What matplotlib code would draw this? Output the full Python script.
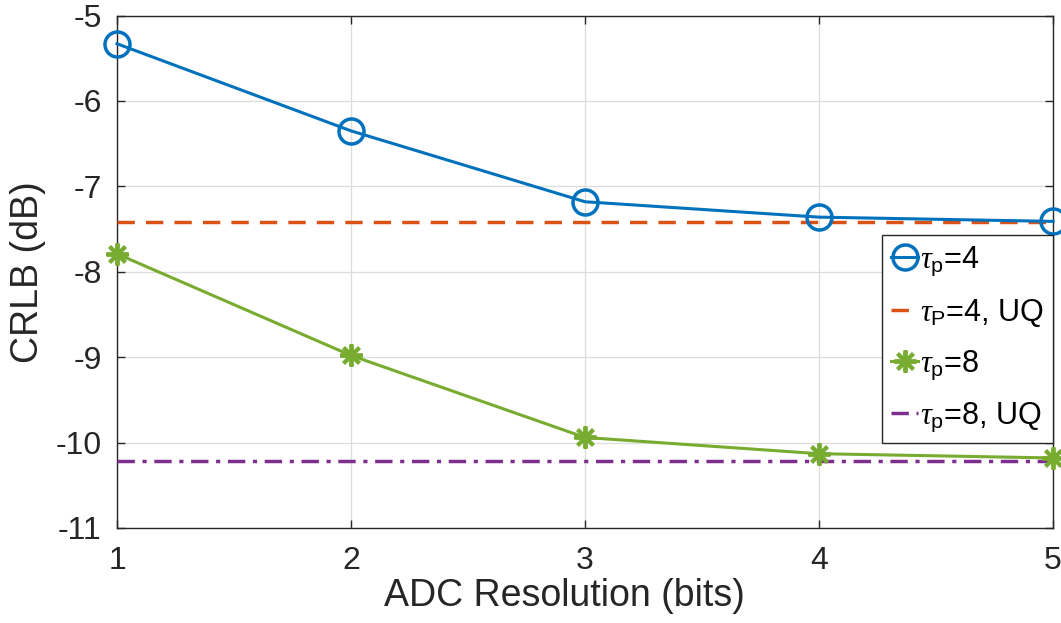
import matplotlib
matplotlib.use("Agg")
import matplotlib.pyplot as plt

plt.rcParams['font.family'] = ['Liberation Sans', 'DejaVu Sans']
plt.rcParams['mathtext.fontset'] = 'custom'
plt.rcParams['mathtext.rm'] = 'Liberation Sans'
plt.rcParams['mathtext.it'] = 'Liberation Serif:italic'

bits = [1, 2, 3, 4, 5]
crlb_tp4 = [-5.33, -6.35, -7.18, -7.36, -7.41]
crlb_tp4_uq = [-7.42] * 5
crlb_tp8 = [-7.79, -8.98, -9.94, -10.13, -10.18]
crlb_tp8_uq = [-10.21] * 5

labels = [r'$\tau_{\rm p}$=4', r'$\tau_{\rm P}$=4, UQ', r'$\tau_{\rm p}$=8', r'$\tau_{\rm p}$=8, UQ']
yticks = [-11, -10, -9, -8, -7, -6, -5]

c_blue = '#0072BD'
c_orange = '#D95319'
c_green = '#77AC30'
c_purple = '#7E2F8E'

fig = plt.figure(figsize=(10.61, 6.23), dpi=100)
ax = fig.add_axes([0.1103, 0.1525, 0.8822, 0.8225])

ax.plot(bits, crlb_tp4, color=c_blue, lw=2.2, marker='o', ms=18, mfc='none', mew=2.5,
        clip_on=False, zorder=5, label=labels[0])
ax.plot(bits, crlb_tp4_uq, color=c_orange, lw=2.5, ls=(0, (5, 3.2)), label=labels[1], zorder=4)
ax.plot(bits, crlb_tp8, color=c_green, lw=2.2, marker=(8, 2, 0), ms=16, mew=2.8,
        clip_on=False, zorder=5, label=labels[2])
ax.plot(bits, crlb_tp8_uq, color=c_purple, lw=2.5, ls=(0, (5, 2.2, 1.2, 2.2)), label=labels[3], zorder=4)

ax.set_xlim(1, 5)
ax.set_ylim(-11, -5)
ax.set_xticks(bits)
ax.set_yticks(yticks)
ax.set_xticklabels([str(b) for b in bits])
ax.set_yticklabels([str(t) for t in yticks])
ax.tick_params(direction='in', length=6, width=1, labelsize=23, colors='#262626')
ax.tick_params(axis='y', pad=11)
ax.tick_params(axis='x', pad=13)
ax.tick_params(top=True, right=True)
ax.grid(True, color='#dcdcdc', lw=0.9)
ax.set_axisbelow(True)
for s in ax.spines.values():
    s.set_color('#262626')
    s.set_linewidth(1.0)

ax.set_xlabel('ADC Resolution (bits)', fontsize=27, color='#262626', labelpad=0)
ax.xaxis.set_label_coords(0.4776, -0.098)
ax.set_ylabel('CRLB (dB)', fontsize=27, color='#262626', labelpad=7)

leg = ax.legend(loc='lower right', bbox_to_anchor=(1.0, 0.165), fontsize=22, handlelength=0.9,
                handletextpad=0.05, borderpad=0.3, labelspacing=0.62, fancybox=False,
                framealpha=1, edgecolor='#262626', borderaxespad=0)
leg.get_frame().set_linewidth(1.0)
leg.set_zorder(10)

fig.savefig('out.png', dpi=100)
